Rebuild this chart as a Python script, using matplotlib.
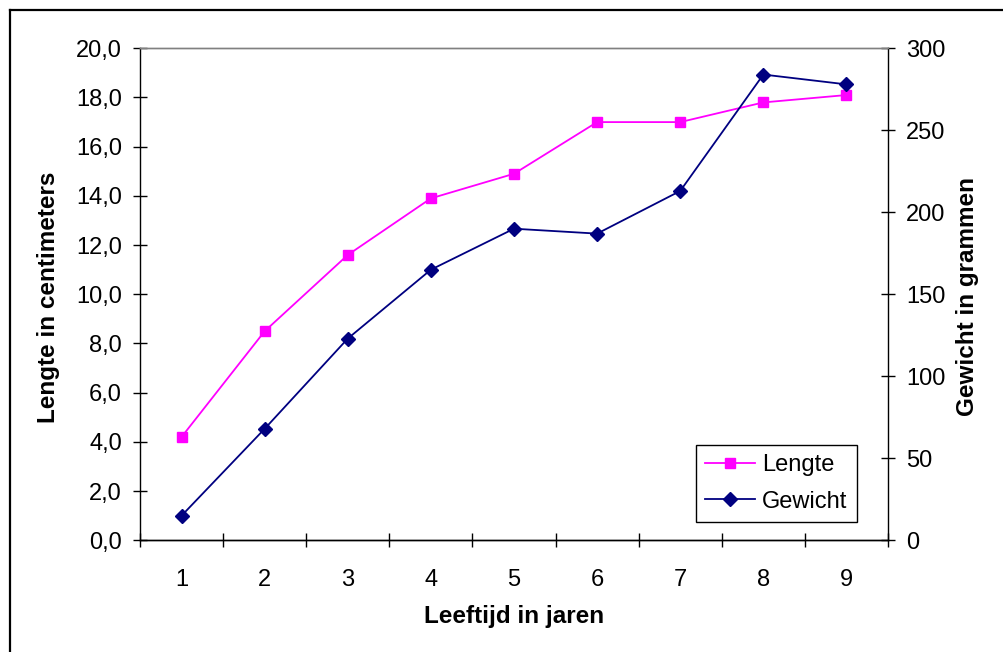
import matplotlib
matplotlib.use("Agg")
import matplotlib.pyplot as plt
from matplotlib.lines import Line2D
from matplotlib.ticker import FuncFormatter

plt.rcParams['font.family'] = ['Liberation Sans', 'DejaVu Sans']

leeftijd = [1, 2, 3, 4, 5, 6, 7, 8, 9]
lengte = [4.2, 8.5, 11.6, 13.9, 14.9, 17.0, 17.0, 17.8, 18.1]
gewicht = [15, 68, 123, 165, 190, 187, 213, 284, 278]

W, H = 1004, 652
fig = plt.figure(figsize=(W / 100, H / 100), dpi=100)

# plot area in pixels: x 140..888, y 48..540
ax = fig.add_axes([140 / W, 1 - 540.3 / H, 748 / W, 492 / H])
ax2 = ax.twinx()

l1, = ax.plot(leeftijd, lengte, color='#FF00FF', lw=1.3, marker='s',
              markersize=7.5, markeredgecolor='#FF00FF', label='Lengte')
l2, = ax2.plot(leeftijd, gewicht, color='#000080', lw=1.3, marker='D',
               markersize=7, markeredgecolor='#000080', label='Gewicht')

ax.set_xlim(0.5, 9.5)
ax.set_ylim(0, 20)
ax2.set_ylim(0, 300)

ax.set_yticks([i * 2 for i in range(11)])
ax.yaxis.set_major_formatter(FuncFormatter(lambda v, p: f"{v:.1f}".replace('.', ',')))
ax2.set_yticks(range(0, 301, 50))

# category boundaries as major ticks, labels on minor ticks
ax.set_xticks([i + 0.5 for i in range(10)])
ax.set_xticklabels([])
ax.set_xticks(leeftijd, minor=True)
ax.set_xticklabels([str(v) for v in leeftijd], minor=True)

ax.tick_params(axis='x', which='major', direction='inout', length=10, width=1)
ax.tick_params(axis='x', which='minor', length=0, pad=21, labelsize=17)
ax.tick_params(axis='y', direction='inout', length=10, width=1, pad=8, labelsize=17)
ax2.tick_params(axis='y', direction='inout', length=10, width=1, pad=8, labelsize=17)

for a in (ax, ax2):
    for s in a.spines.values():
        s.set_linewidth(1)
        s.set_color('black')
    a.spines['top'].set_color('#808080')
ax.spines['right'].set_visible(False)
ax2.spines['left'].set_visible(False)

fig.text(49 / W, 1 - 297 / H, 'Lengte in centimeters', rotation=90,
         ha='center', va='center', fontsize=17.5, fontweight='bold')
fig.text(968 / W, 1 - 297 / H, 'Gewicht in grammen', rotation=90,
         ha='center', va='center', fontsize=17.5, fontweight='bold')
fig.text(514 / W, 1 - 617 / H, 'Leeftijd in jaren',
         ha='center', va='center', fontsize=17.5, fontweight='bold')

leg = ax2.legend(handles=[l1, l2], loc='upper left',
                 bbox_to_anchor=(696 / W, 1 - 445 / H), bbox_transform=fig.transFigure,
                 borderaxespad=0, fancybox=False, framealpha=1, edgecolor='black',
                 fontsize=17, handlelength=2.1, handletextpad=0.3,
                 labelspacing=0.6, borderpad=0.4)
leg.get_frame().set_linewidth(1)

# outer chart frame (only top and left edges visible)
fig.add_artist(Line2D([10.5 / W, 1], [1 - 10 / H, 1 - 10 / H],
                      transform=fig.transFigure, color='black', lw=1.6))
fig.add_artist(Line2D([10.5 / W, 10.5 / W], [0, 1 - 10 / H],
                      transform=fig.transFigure, color='black', lw=1.6))

fig.savefig('out.png', dpi=100)
